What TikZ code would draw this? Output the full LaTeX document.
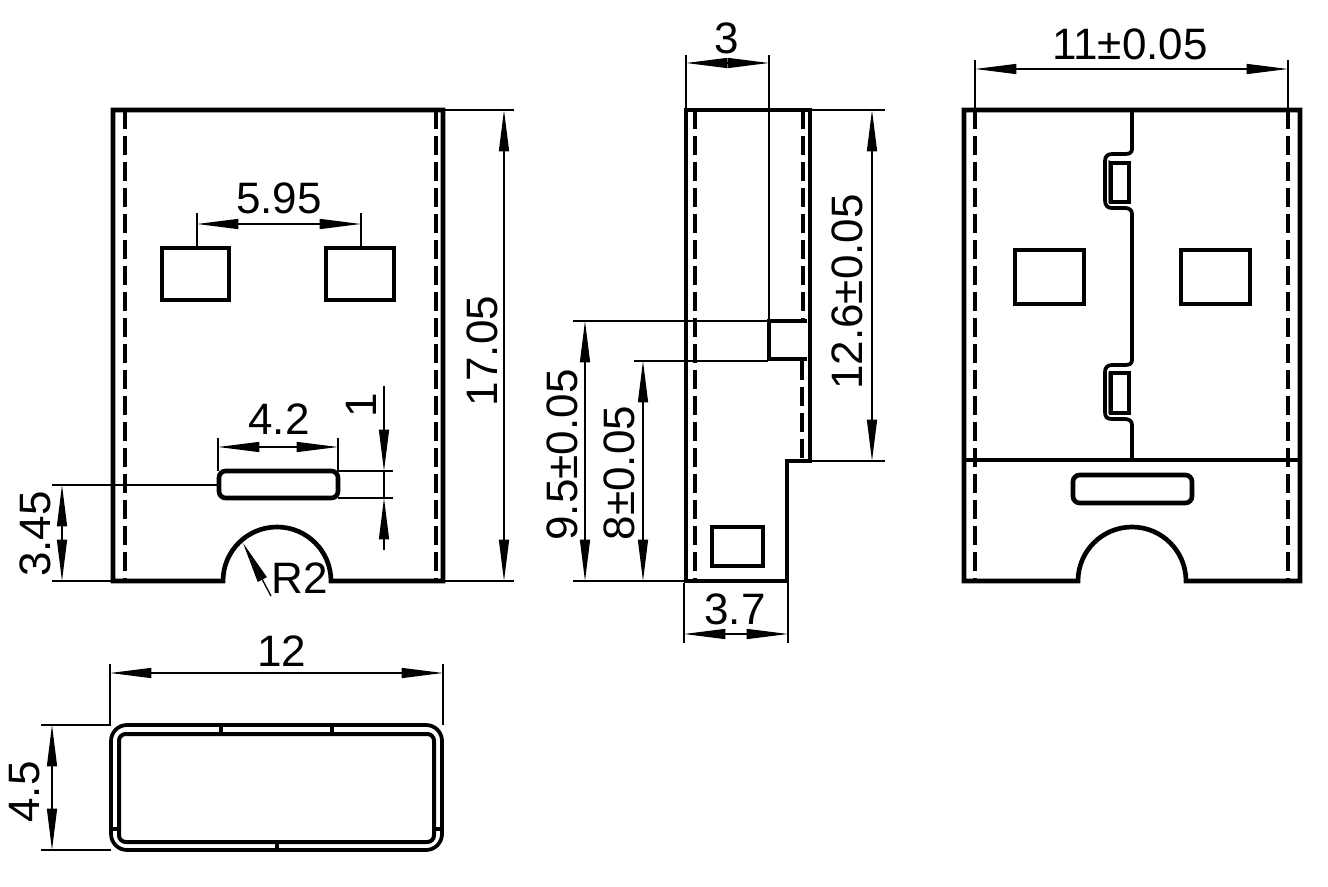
\documentclass[tikz,border=0pt]{standalone}
\usepackage{fontspec}
\setmainfont{Liberation Sans}
\usetikzlibrary{arrows.meta}
\tikzset{
  x=0.75pt,y=-0.75pt,
  outline/.style={line width=3.5pt,line join=miter,line cap=butt},
  window/.style={line width=3pt,line join=miter},
  seam/.style={line width=2.8pt,line join=round,line cap=butt},
  shell/.style={line width=2.8pt,line join=round},
  hidden/.style={line width=3.7pt,dash pattern=on 14pt off 5.5pt},
  ext/.style={line width=1pt},
  dim/.style={line width=1pt,{Stealth[length=31pt,width=7.5pt,inset=0pt]}-{Stealth[length=31pt,width=7.5pt,inset=0pt]}},
  dimtip/.style={line width=1pt,-{Stealth[length=31pt,width=7.5pt,inset=0pt]}},
  lab/.style={font=\fontsize{33}{33}\selectfont,inner sep=0pt},
  vlab/.style={lab,rotate=90},
}
\begin{document}
\begin{tikzpicture}
\useasboundingbox (0,0) rectangle (1328,887);
\fill[white] (0,0) rectangle (1328,887);
% ---------- left view
\draw[hidden] (125,110) -- (125,581);
\draw[hidden] (436,110) -- (436,581);
\draw[outline] (113,110) -- (443,110) -- (443,581) -- (331,581) arc[start angle=0,end angle=-180,radius=54] -- (113,581) -- cycle;
\draw[window] (162,248) rectangle (229,300);
\draw[window] (326,248) rectangle (394,300);
\draw[outline,rounded corners=5] (219,471) rectangle (338,498);
\draw[ext] (197,247) -- (197,213);
\draw[ext] (361,247) -- (361,213);
\draw[dim] (197,224) -- (361,224);
\node[lab] (t595) at (279,198) {5.95};
\draw[ext] (443,110) -- (514,110);
\draw[ext] (443,581) -- (514,581);
\draw[dim] (504,110) -- (504,581);
\node[vlab] (t1705) at (482,351) {17.05};
\draw[ext] (218,438) -- (218,471);
\draw[ext] (338,438) -- (338,471);
\draw[dim] (218,447) -- (338,447);
\node[lab] (t42) at (279,419) {4.2};
\draw[ext] (338,471) -- (393,471);
\draw[ext] (338,498) -- (393,498);
\draw[ext] (384,471) -- (384,498);
\draw[dimtip] (384,386) -- (384,471);
\draw[dimtip] (384,550) -- (384,498);
\node[vlab] (t1) at (361,405) {1};
\draw[ext] (52,485) -- (219,485);
\draw[ext] (52,581) -- (113,581);
\draw[dim] (62,485) -- (62,581);
\node[vlab] (t345) at (35,534) {3.45};
\draw[dimtip] (271,596) -- (243,543);
\node[lab] (tr2) at (300,578) {R2};
% ---------- bottom view
\draw[shell,rounded corners=12] (111,725) rectangle (442,850);
\draw[shell,line width=3pt,rounded corners=5] (119,734) rectangle (434,842);
\draw[shell] (221,725) -- (221,734);
\draw[shell] (332,725) -- (332,734);
\draw[shell] (277,842) -- (277,850);
\draw[shell] (111,829) -- (119,829);
\draw[shell] (434,829) -- (442,829);
\draw[ext] (110,664) -- (110,725);
\draw[ext] (443,664) -- (443,725);
\draw[dim] (110,673) -- (443,673);
\node[lab] (t12) at (282,651) {12};
\draw[ext] (41,725) -- (111,725);
\draw[ext] (41,850) -- (111,850);
\draw[dim] (52,725) -- (52,850);
\node[vlab] (t45) at (25,792) {4.5};
% ---------- middle view
\draw[hidden] (695,110) -- (695,581);
\draw[hidden] (803,110) -- (803,321);
\draw[hidden] (802,361) -- (802,461);
\draw[outline] (686,110) -- (810,110) -- (810,461) -- (787,461) -- (787,581) -- (686,581) -- cycle;
\draw[window] (807,321) -- (769,321) -- (769,359) -- (807,359);
\draw[window] (712,527) rectangle (763,566);
\draw[ext] (686,55) -- (686,110);
\draw[ext] (769,55) -- (769,321);
\draw[dim] (686,63) -- (769,63);
\node[lab] (t3) at (727,38) {3};
\draw[ext] (810,110) -- (885,110);
\draw[ext] (787,461) -- (885,461);
\draw[dim] (872,110) -- (872,461);
\node[vlab] (t126) at (847,292) {12.6±0.05};
\draw[ext] (573,321) -- (768,321);
\draw[ext] (573,581) -- (686,581);
\draw[dim] (585,321) -- (585,581);
\node[vlab] (t95) at (562,455) {9.5±0.05};
\draw[ext] (634,361) -- (768,361);
\draw[dim] (643,361) -- (643,581);
\node[vlab] (t8) at (619,473) {8±0.05};
\draw[ext] (684,583) -- (684,643);
\draw[ext] (788,583) -- (788,643);
\draw[dim] (684,634) -- (788,634);
\node[lab] (t37) at (735,609) {3.7};
% ---------- right view
\draw[hidden] (975,110) -- (975,581);
\draw[hidden] (1288,110) -- (1288,581);
\draw[outline] (964,110) -- (1300,110) -- (1300,581) -- (1186,581) arc[start angle=0,end angle=-180,radius=54] -- (964,581) -- cycle;
\draw[outline,line width=2.8pt] (964,460) -- (1300,460);
\draw[window] (1015,250) rectangle (1084,304);
\draw[window] (1181,250) rectangle (1250,304);
\draw[outline,rounded corners=5] (1073,475) rectangle (1192,503);
\draw[line width=1.5pt,gray] (1108.5,160) -- (1108.5,203);
\draw[line width=1.5pt,gray] (1108.5,372) -- (1108.5,414);
\draw[seam]
  (1132,110) -- (1132,149) .. controls (1132,153) and (1129,154) .. (1125,154)
  -- (1112,154) .. controls (1107,154) and (1105,157) .. (1105,161)
  -- (1105,200) .. controls (1105,205) and (1107,208) .. (1112,208)
  -- (1125,208) .. controls (1129,208) and (1132,210) .. (1132,214)
  -- (1132,360) .. controls (1132,364) and (1129,365) .. (1125,365)
  -- (1112,365) .. controls (1107,365) and (1105,368) .. (1105,372)
  -- (1105,412) .. controls (1105,417) and (1107,419) .. (1112,419)
  -- (1125,419) .. controls (1129,419) and (1132,421) .. (1132,425)
  -- (1132,460);
\draw[window] (1111,163) rectangle (1129,202);
\draw[window] (1111,373) rectangle (1129,413);
\draw[ext] (975,60) -- (975,110);
\draw[ext] (1288,60) -- (1288,110);
\draw[dim] (975,69) -- (1288,69);
\node[lab] (t11) at (1130,44) {11±0.05};
\end{tikzpicture}
\end{document}
